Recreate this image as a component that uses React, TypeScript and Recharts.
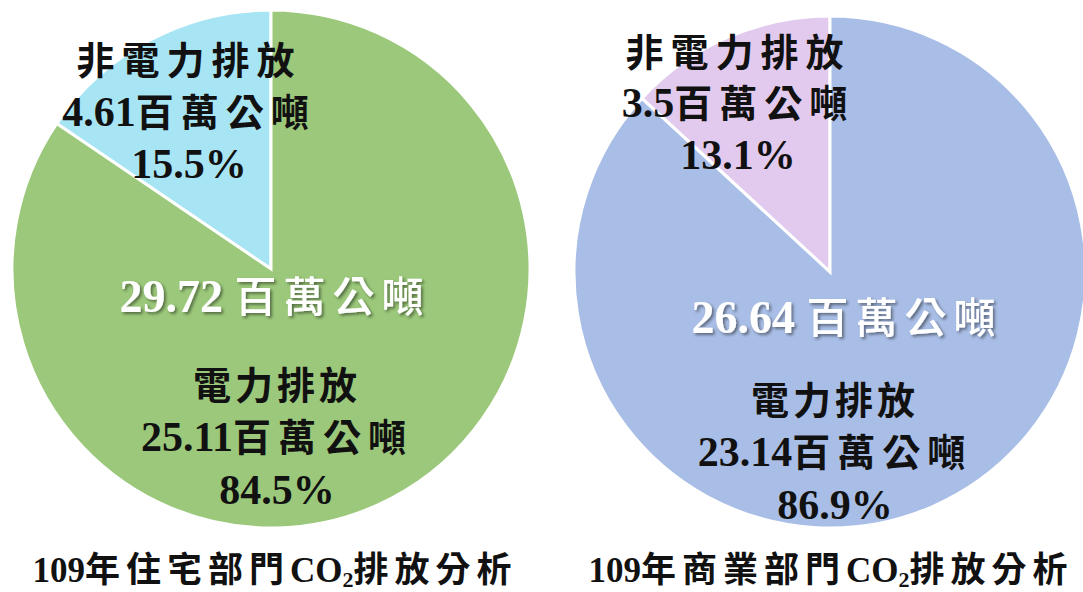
import { Cell, Pie, PieChart } from "recharts";

const categories = ["非電力排放", "電力排放"];
const sectors = ["住宅部門", "商業部門"];
const year = "109";
const unit = "百萬公噸";
const residentialValues = [4.61, 25.11];
const commercialValues = [3.5, 23.14];
const residentialPercents = [15.5, 84.5];
const commercialPercents = [13.1, 86.9];
const totals = [29.72, 26.64];

const FONT = "'Liberation Serif', 'Times New Roman', 'Noto Sans CJK TC', serif";

type PieLayout = {
  id: string;
  cx: number;
  cy: number;
  r: number;
  colors: string[];
  small: { dx: number; dy: number[] };
  big: { dx: number; dy: number[] };
  total: { dx: number; dy: number };
  titleX: number;
};

const layouts: PieLayout[] = [
  {
    id: "res",
    cx: 271,
    cy: 269,
    r: 259,
    colors: ["#A8E5F4", "#9BC87A"],
    small: { dx: -82, dy: [-195, -143, -91] },
    big: { dx: 6, dy: [130, 182, 235] },
    total: { dx: 4, dy: 43 },
    titleX: 275,
  },
  {
    id: "com",
    cx: 830,
    cy: 272,
    r: 256,
    colors: ["#E2CAEE", "#A9BEE6"],
    small: { dx: -92, dy: [-206, -155, -103] },
    big: { dx: 5, dy: [142, 194, 247] },
    total: { dx: 17, dy: 61 },
    titleX: 831,
  },
];

function makeLabel(layout: PieLayout, values: number[], percents: number[], total: number) {
  return (props: any) => {
    const i = props.index;
    const pos = i === 0 ? layout.small : layout.big;
    const x = layout.cx + pos.dx;
    return (
      <g key={`lbl-${layout.id}-${i}`}>
        {i === 1 && (
          <g>
            <defs>
              <filter id={`shadow-${layout.id}`} x="-10%" y="-30%" width="120%" height="160%">
                <feDropShadow dx="2" dy="2" stdDeviation="1.5" floodColor="#000" floodOpacity="0.45" />
              </filter>
            </defs>
            <text
              x={layout.cx + layout.total.dx}
              y={layout.cy + layout.total.dy}
              textAnchor="middle"
              fontFamily={FONT}
              fontSize={46}
              fontWeight={700}
              fill="#fff"
              filter={`url(#shadow-${layout.id})`}
            >
              <tspan>{`${total} `}</tspan>
              <tspan fontSize={42} fontWeight={500} letterSpacing={7}>{unit}</tspan>
            </text>
          </g>
        )}
        <text x={x} y={layout.cy + pos.dy[0]} textAnchor="middle" fontFamily={FONT} fontSize={38} fontWeight={700} fill="#111" letterSpacing={i === 0 ? 7 : 4}>
          {categories[i]}
        </text>
        <text x={x} y={layout.cy + pos.dy[1]} textAnchor="middle" fontFamily={FONT} fontSize={42} fontWeight={700} fill="#111">
          <tspan>{values[i]}</tspan>
          <tspan fontSize={38} letterSpacing={7}>{unit}</tspan>
        </text>
        <text x={x} y={layout.cy + pos.dy[2]} textAnchor="middle" fontFamily={FONT} fontSize={42} fontWeight={700} fill="#111">
          {`${percents[i]}%`}
        </text>
      </g>
    );
  };
}

export default function App() {
  const series = [
    { values: residentialValues, percents: residentialPercents },
    { values: commercialValues, percents: commercialPercents },
  ];

  return (
    <div style={{ position: "absolute", left: 0, top: 0, width: 1083, height: 592, background: "#fff" }}>
      <PieChart width={1083} height={592} margin={{ top: 0, right: 0, bottom: 0, left: 0 }}>
        {layouts.map((layout, k) => (
          <Pie
            key={layout.id}
            data={categories.map((name, i) => ({ name, value: series[k].values[i] }))}
            dataKey="value"
            nameKey="name"
            cx={layout.cx}
            cy={layout.cy}
            outerRadius={layout.r}
            startAngle={90}
            endAngle={450}
            stroke="#fff"
            strokeWidth={3}
            labelLine={false}
            label={makeLabel(layout, series[k].values, series[k].percents, totals[k])}
            isAnimationActive={false}
          >
            {categories.map((name, i) => (
              <Cell key={name} fill={layout.colors[i]} />
            ))}
          </Pie>
        ))}
        {layouts.map((layout, k) => (
          <text
            key={`title-${layout.id}`}
            x={layout.titleX}
            y={582}
            textAnchor="middle"
            fontFamily={FONT}
            fontSize={35}
            fontWeight={700}
            fill="#111"
          >
            <tspan>{year}</tspan>
            <tspan letterSpacing={6}>{`年${sectors[k]}`}</tspan>
            <tspan>CO</tspan>
            <tspan fontSize={22} dy={5}>2</tspan>
            <tspan dy={-5} letterSpacing={6}>排放分析</tspan>
          </text>
        ))}
      </PieChart>
    </div>
  );
}
